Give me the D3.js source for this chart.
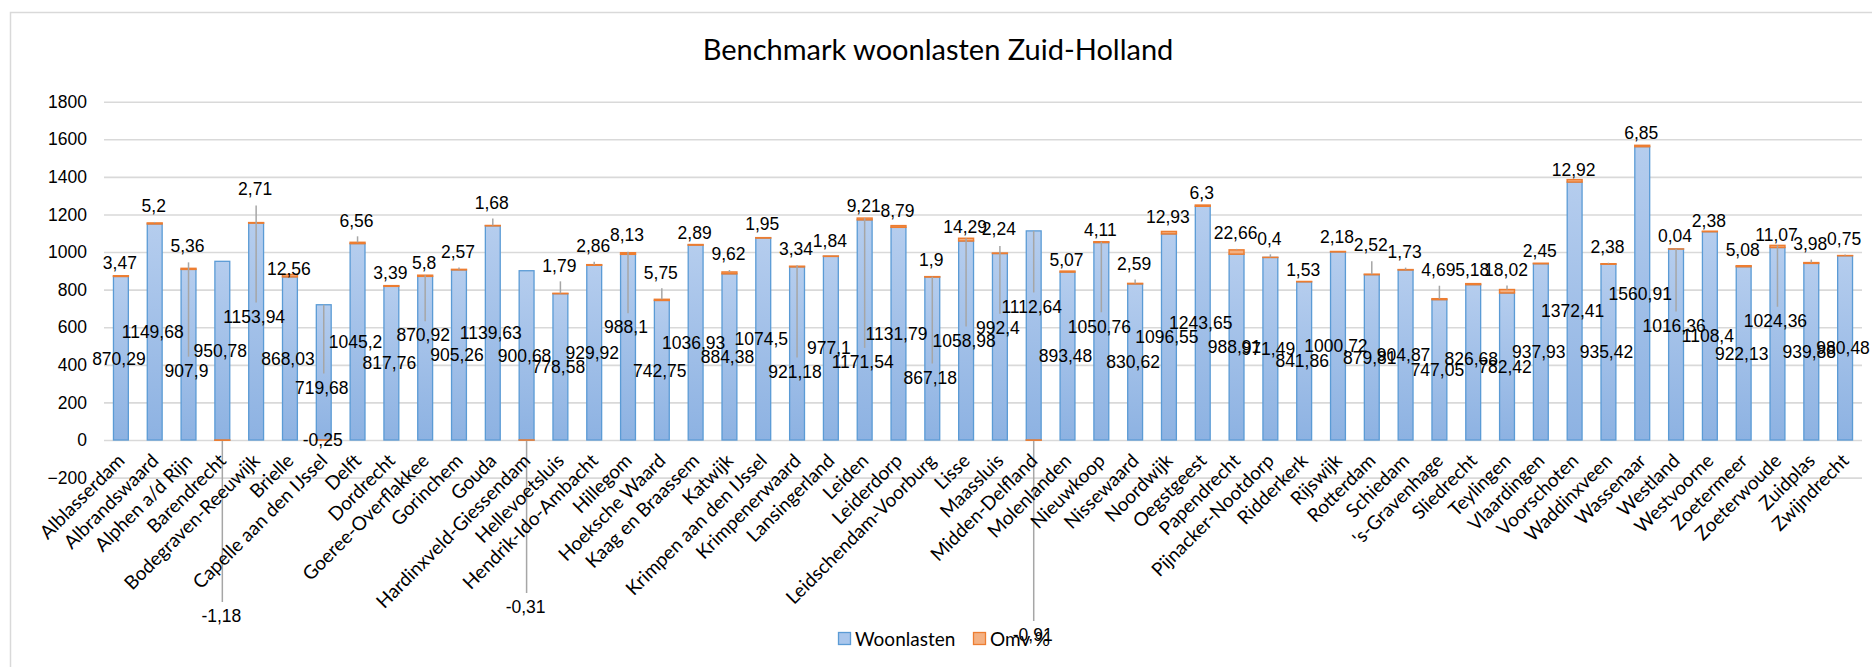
<!DOCTYPE html>
<html>
<head>
<meta charset="utf-8">
<script src="https://cdn.jsdelivr.net/npm/d3@7"></script>
<style>
  body { margin: 0; background: #fff; }
  svg { display: block; }
</style>
</head>
<body>
<svg id="chart" width="1872" height="667"></svg>
<script>
const categories = [
  'Alblasserdam', 'Albrandswaard', 'Alphen a/d Rijn', 'Barendrecht', 'Bodegraven-Reeuwijk', 'Brielle',
  'Capelle aan den IJssel', 'Delft', 'Dordrecht', 'Goeree-Overflakkee', 'Gorinchem', 'Gouda',
  'Hardinxveld-Giessendam', 'Hellevoetsluis', 'Hendrik-Ido-Ambacht', 'Hillegom', 'Hoeksche Waard',
  'Kaag en Braassem', 'Katwijk', 'Krimpen aan den IJssel', 'Krimpenerwaard', 'Lansingerland', 'Leiden',
  'Leiderdorp', 'Leidschendam-Voorburg', 'Lisse', 'Maassluis', 'Midden-Delfland', 'Molenlanden',
  'Nieuwkoop', 'Nissewaard', 'Noordwijk', 'Oegstgeest', 'Papendrecht', 'Pijnacker-Nootdorp', 'Ridderkerk',
  'Rijswijk', 'Rotterdam', 'Schiedam', '\'s-Gravenhage', 'Sliedrecht', 'Teylingen', 'Vlaardingen',
  'Voorschoten', 'Waddinxveen', 'Wassenaar', 'Westland', 'Westvoorne', 'Zoetermeer', 'Zoeterwoude',
  'Zuidplas', 'Zwijndrecht'
];
const woonlasten = [
  870.29, 1149.68, 907.9, 950.78, 1153.94, 868.03, 719.68, 1045.2, 817.76, 870.92, 905.26, 1139.63,
  900.68, 778.58, 929.92, 988.1, 742.75, 1036.93, 884.38, 1074.5, 921.18, 977.1, 1171.54, 1131.79,
  867.18, 1058.98, 992.4, 1112.64, 893.48, 1050.76, 830.62, 1096.55, 1243.65, 988.91, 971.49, 841.86,
  1000.72, 879.81, 904.87, 747.05, 826.68, 782.42, 937.93, 1372.41, 935.42, 1560.91, 1016.36, 1108.4,
  922.13, 1024.36, 939.88, 980.48
];
const omv = [
  3.47, 5.2, 5.36, -1.18, 2.71, 12.56, -0.25, 6.56, 3.39, 5.8, 2.57, 1.68,
  -0.31, 1.79, 2.86, 8.13, 5.75, 2.89, 9.62, 1.95, 3.34, 1.84, 9.21, 8.79,
  1.9, 14.29, 2.24, -0.91, 5.07, 4.11, 2.59, 12.93, 6.3, 22.66, 0.4, 1.53,
  2.18, 2.52, 1.73, 4.69, 5.18, 18.02, 2.45, 12.92, 2.38, 6.85, 0.04, 2.38,
  5.08, 11.07, 3.98, 0.75
];
const yTicks = [-200, 0, 200, 400, 600, 800, 1000, 1200, 1400, 1600, 1800];
const seriesNames = ['Woonlasten', 'Omv %'];

// label nudges in px, copied from where the original renderer put them
const woonShift = [
  0, 0, 16, 0, -15, 0, 15, 0, 0, -23, 0, 0, 0, 0, 0, -20, 0, 0, 0, 0, 18, 0, 32, 0, 19, 0,
  -19, -29, 0, -15, 0, 0, 0, 0, 0, 0, 0, 0, 0, 0, -4, 0, 0, 0, 0, 0, -19, 0, 0, -23, 0, 0
];
const omvShift = [
  -13, -17, -23, 176, -34, -6, 0, -22, -13, -13, -18, -23, 167, -28, -19, -18, -27, -12, -18, -14,
  -18, -15, -12, -15, -17, -12, -24, 195, -11, -12, -20, -15, -12, -17, -19, -12, -15, -29, -18, -29,
  -14, -20, -13, -10, -17, -13, -13, -11, -16, -11, -19, -17
];
const woonLeader = [
  'Alphen a/d Rijn', 'Bodegraven-Reeuwijk', 'Capelle aan den IJssel', 'Goeree-Overflakkee', 'Hillegom',
  'Krimpenerwaard', 'Leiden', 'Leidschendam-Voorburg', 'Lisse', 'Maassluis', 'Midden-Delfland',
  'Nieuwkoop', 'Westland', 'Zoeterwoude'
];

const plot = { left: 104, right: 1862, top: 101.7, bottom: 477.6 };
const fmt = (v) => String(v).replace('.', ',');

const svg = d3.select('#chart');
svg.append('rect').attr('width', 1872).attr('height', 667).attr('fill', '#fff');

const defs = svg.append('defs');
const grad = defs.append('linearGradient').attr('id', 'blueGrad').attr('x1', 0).attr('y1', 0).attr('x2', 0).attr('y2', 1);
grad.append('stop').attr('offset', '0%').attr('stop-color', '#b5cdee');
grad.append('stop').attr('offset', '100%').attr('stop-color', '#8db2e2');

// chart area border
svg.append('path')
  .attr('d', 'M10.5,667 V12.5 H1872')
  .attr('fill', 'none')
  .attr('stroke', '#d9d9d9')
  .attr('stroke-width', 1.5);

const x = d3.scaleBand()
  .domain(categories)
  .range([plot.left, plot.right])
  .paddingInner(0.56)
  .paddingOuter(0.28);
const y = d3.scaleLinear().domain([-200, 1800]).range([plot.bottom, plot.top]);

svg.append('text')
  .attr('x', 938)
  .attr('y', 60)
  .attr('text-anchor', 'middle')
  .attr('font-family', 'Lato, sans-serif')
  .attr('font-size', 29)
  .attr('fill', '#000')
  .text('Benchmark woonlasten Zuid-Holland');

const yAxis = svg.append('g')
  .attr('transform', `translate(${plot.left},0)`)
  .call(d3.axisLeft(y).tickValues(yTicks).tickSize(-(plot.right - plot.left)).tickPadding(17).tickFormat(d3.format('d')));
yAxis.select('.domain').remove();
yAxis.selectAll('.tick line').attr('stroke', '#d9d9d9').attr('stroke-width', 1.6);
yAxis.selectAll('.tick text')
  .attr('font-family', '"Liberation Sans", Arial, sans-serif')
  .attr('font-size', 17.5)
  .attr('fill', '#000');

const layout = categories.map((name, i) => {
  let cx = x(name) + x.bandwidth() / 2;
  let top = y(woonlasten[i] + Math.max(omv[i], 0));
  let woonY = y(woonlasten[i] / 2) + woonShift[i];
  let omvY = omv[i] < 0 ? y(0) + omvShift[i] : top + omvShift[i];
  return { name, i, cx, top, woonY, omvY };
});

const bars = svg.append('g');
bars.selectAll('.bar-woon')
  .data(layout)
  .join('rect')
  .attr('class', 'bar-woon')
  .attr('x', (d) => x(d.name))
  .attr('width', x.bandwidth())
  .attr('y', (d) => y(woonlasten[d.i]))
  .attr('height', (d) => y(0) - y(woonlasten[d.i]))
  .attr('fill', 'url(#blueGrad)')
  .attr('stroke', '#5b9bd5')
  .attr('stroke-width', 1.3);

bars.selectAll('.bar-omv')
  .data(layout)
  .join('rect')
  .attr('class', 'bar-omv')
  .attr('x', (d) => x(d.name))
  .attr('width', x.bandwidth())
  .attr('y', (d) => omv[d.i] >= 0 ? y(woonlasten[d.i] + omv[d.i]) : y(0))
  .attr('height', (d) => Math.abs(y(0) - y(omv[d.i])))
  .attr('fill', '#f4b183')
  .attr('stroke', '#ed7d31')
  .attr('stroke-width', 1.5);

// leader lines
const leaders = svg.append('g').attr('stroke', '#a6a6a6').attr('stroke-width', 1.5);
layout.forEach((d) => {
  let lines = [];
  if (woonLeader.includes(d.name)) {
    lines.push([Math.min(d.omvY + 17, d.top), d.woonY - 14]);
  } else if (omv[d.i] >= 0 && d.top - (d.omvY + 16) > 0.5) {
    lines.push([d.omvY + 16, d.top]);
  }
  if (omv[d.i] < 0 && omvShift[d.i] > 20) {
    lines.push([y(0) + 1, d.omvY - 14]);
  }
  lines.forEach(([y1, y2]) => {
    leaders.append('line')
      .attr('x1', d.cx).attr('x2', d.cx)
      .attr('y1', y1).attr('y2', y2);
  });
});

const labels = svg.append('g')
  .attr('font-family', '"Liberation Sans", Arial, sans-serif')
  .attr('font-size', 17.5)
  .attr('fill', '#000')
  .attr('text-anchor', 'middle');
labels.selectAll('.label-woon')
  .data(layout)
  .join('text')
  .attr('class', 'label-woon')
  .attr('x', (d) => d.cx - 2)
  .attr('y', (d) => d.woonY)
  .attr('dy', '0.36em')
  .text((d) => fmt(woonlasten[d.i]));
labels.selectAll('.label-omv')
  .data(layout)
  .join('text')
  .attr('class', 'label-omv')
  .attr('x', (d) => d.cx - 1)
  .attr('y', (d) => d.omvY)
  .attr('dy', '0.36em')
  .text((d) => fmt(omv[d.i]));

// category axis, labels rotated 45 degrees
svg.append('g')
  .selectAll('text')
  .data(layout)
  .join('text')
  .attr('transform', (d) => `translate(${d.cx + 5},${y(0) + 22}) rotate(-45)`)
  .attr('text-anchor', 'end')
  .attr('font-family', 'Lato, sans-serif')
  .attr('font-size', 19)
  .attr('fill', '#000')
  .text((d) => d.name);

// legend
const legend = svg.append('g').attr('transform', 'translate(838,632)');
const legendItems = [
  { name: seriesNames[0], fill: '#a9c6ec', stroke: '#5b9bd5', x: 0 },
  { name: seriesNames[1], fill: '#f4b183', stroke: '#ed7d31', x: 135 }
];
legendItems.forEach((item) => {
  legend.append('rect')
    .attr('x', item.x + 0.5).attr('y', 0.5)
    .attr('width', 12).attr('height', 12)
    .attr('fill', item.fill)
    .attr('stroke', item.stroke)
    .attr('stroke-width', 1.3);
  legend.append('text')
    .attr('x', item.x + 17)
    .attr('y', 7)
    .attr('dy', '0.36em')
    .attr('font-family', 'Lato, sans-serif')
    .attr('font-size', 19)
    .attr('fill', '#000')
    .text(item.name);
});
</script>
</body>
</html>
